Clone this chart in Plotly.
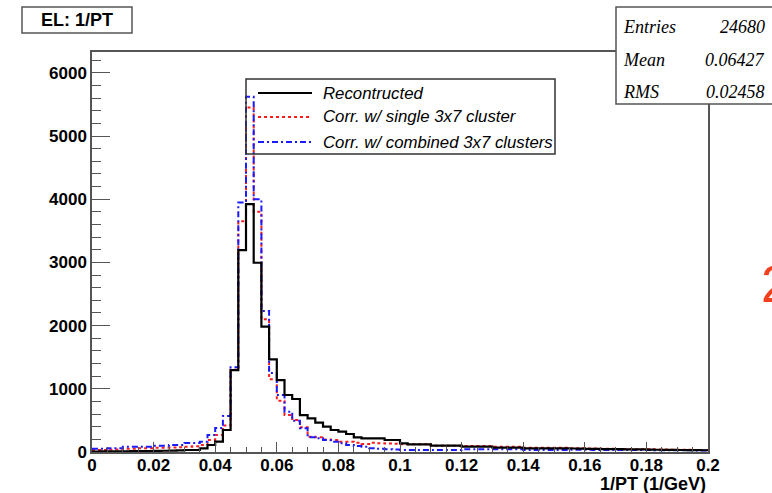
import numpy as np
import plotly.graph_objects as go

# 1/PT histogram, 80 bins from 0 to 0.2 (1/GeV)
bin_lo, bin_hi, n_bins = 0.0, 0.2, 80

reco = [8, 10, 10, 12, 12, 14, 14, 16, 18, 20, 22, 25,
        32, 32, 58, 111, 163, 348, 1297, 3196, 3924, 2995, 1983, 1466,
        1139, 902, 839, 585, 533, 464, 401, 348, 322, 285, 232, 216,
        216, 216, 190, 190, 137, 121, 121, 121, 100, 100, 100, 100,
        84, 84, 84, 84, 68, 68, 68, 68, 58, 58, 58, 58, 58, 58,
        55, 52, 50, 48, 46, 45, 44, 42, 40, 40, 38, 36, 35, 34, 32, 30, 30, 28]

corr_single = [30, 30, 40, 40, 50, 50, 60, 60, 68, 68, 70, 75,
               84, 90, 111, 190, 269, 420, 1300, 3650, 5450, 3800, 2100, 1150,
               812, 585, 506, 390, 243, 232, 199, 190, 163, 163, 148, 127,
               148, 140, 135, 130, 121, 121, 121, 121, 100, 100, 100, 100,
               95, 95, 95, 95, 84, 84, 84, 84, 68, 68, 68, 68, 68, 68,
               60, 58, 56, 54, 52, 50, 48, 46, 45, 44, 42, 40, 38, 36, 35, 34, 32, 30]

corr_combined = [50, 50, 60, 60, 84, 84, 84, 84, 100, 100, 111, 111,
                 142, 142, 163, 269, 380, 570, 1340, 3950, 5620, 4000, 2230, 1250,
                 902, 638, 495, 375, 232, 216, 190, 163, 137, 111, 95, 84,
                 60, 50, 42, 40, 32, 32, 32, 32, 32, 32, 32, 32,
                 42, 42, 42, 42, 42, 42, 42, 42, 32, 32, 32, 32, 32, 32,
                 35, 34, 34, 33, 33, 32, 32, 31, 30, 30, 30, 29, 28, 28, 27, 26, 25, 25]

series = [
    ("Recontructed", reco, "#000000", "solid", 2.2),
    ("Corr. w/ single 3x7 cluster", corr_single, "#ff1a1a", "3px,3px", 2.0),
    ("Corr. w/ combined 3x7 clusters", corr_combined, "#1a1aff", "6px,3px,2px,3px", 2.0),
]

stats = [("Entries", "24680"), ("Mean", "0.06427"), ("RMS", "0.02458")]

edges = np.linspace(bin_lo, bin_hi, n_bins + 1)

W, H = 772, 493
L, R, T, B = 92, 708, 52, 452   # plot frame in pixels


def px(x):
    return (x - L) / (R - L)


def py(y):
    return (B - y) / (B - T)


fig = go.Figure()
# draw the black histogram last so it sits on top
for name, vals, col, dash, w in [series[1], series[2], series[0]]:
    v = list(vals)
    fig.add_trace(go.Scatter(
        x=edges, y=v + [v[-1]], mode="lines", line_shape="hv",
        line=dict(color=col, dash=dash, width=w), name=name, showlegend=False,
        hoverinfo="skip"))

SANS = "Liberation Sans, Arial, sans-serif"
axis_font = dict(family=SANS, size=17, color="#000", weight="bold")

fig.update_xaxes(
    range=[bin_lo, bin_hi], dtick=0.02, tick0=0, ticks="inside", ticklen=10,
    tickwidth=1, tickcolor="#555", tickfont=axis_font, showgrid=False, zeroline=False,
    showline=True, linecolor="#555", linewidth=1.5, mirror=True, ticklabelstandoff=-3,
    minor=dict(dtick=0.005, tick0=0, ticks="inside", ticklen=5, tickcolor="#555", showgrid=False))
fig.update_yaxes(
    range=[0, 6330], dtick=1000, tick0=0, ticks="inside", ticklen=18,
    tickwidth=1, tickcolor="#555", tickfont=axis_font, showgrid=False, zeroline=False,
    showline=True, linecolor="#555", linewidth=1.5, mirror=True,
    minor=dict(dtick=200, tick0=0, ticks="inside", ticklen=9, tickcolor="#555", showgrid=False))

shapes = []
annotations = []

# title box
shapes.append(dict(type="rect", xref="paper", yref="paper",
                   x0=px(22), x1=px(132), y0=py(33), y1=py(7),
                   line=dict(color="#555", width=1.5), fillcolor="white"))
annotations.append(dict(xref="paper", yref="paper", x=px(77), y=py(20.5),
                        text="EL: 1/PT", showarrow=False, xanchor="center", yanchor="middle",
                        font=dict(family=SANS, size=18, color="#000", weight="bold")))

# statistics box
shapes.append(dict(type="rect", xref="paper", yref="paper",
                   x0=px(616), x1=px(790), y0=py(104), y1=py(7),
                   line=dict(color="#555", width=1.5), fillcolor="white", layer="above"))
stat_font = dict(family="Liberation Serif, Times New Roman, serif", size=18, color="#000",
                 style="italic")
for k, (lab, val) in enumerate(stats):
    yc = 27 + k * 32.5
    annotations.append(dict(xref="paper", yref="paper", x=px(621), y=py(yc), text=lab,
                            showarrow=False, xanchor="left", yanchor="middle", font=stat_font))
    annotations.append(dict(xref="paper", yref="paper", x=px(767), y=py(yc), text=val,
                            showarrow=False, xanchor="right", yanchor="middle", font=stat_font))

# legend box (transparent, lines show through)
shapes.append(dict(type="rect", xref="paper", yref="paper",
                   x0=px(246), x1=px(555), y0=py(154), y1=py(79),
                   line=dict(color="#333", width=1.5), fillcolor="rgba(0,0,0,0)", layer="above"))
leg_font = dict(family=SANS, size=16.8, color="#000", style="italic")
for k, (name, vals, col, dash, w) in enumerate(series):
    yc = [93, 117, 142][k]
    shapes.append(dict(type="line", xref="paper", yref="paper",
                       x0=px(258), x1=px(312), y0=py(yc), y1=py(yc),
                       line=dict(color=col, dash=dash, width=w), layer="above"))
    annotations.append(dict(xref="paper", yref="paper", x=px(321), y=py(yc), text=name,
                            showarrow=False, xanchor="left", yanchor="middle", font=leg_font))

# x-axis title
annotations.append(dict(xref="paper", yref="paper", x=1.0, y=py(484), text="1/PT (1/GeV)",
                        showarrow=False, xanchor="right", yanchor="middle",
                        font=dict(family=SANS, size=18, color="#000", weight="bold")))

# slide number at the right edge
annotations.append(dict(xref="paper", yref="paper", x=px(759), y=py(284), text="2",
                        showarrow=False, xanchor="left", yanchor="middle",
                        font=dict(family=SANS, size=52, color="#f0401e")))

fig.update_layout(
    width=W, height=H, margin=dict(l=L, r=W - R, t=T, b=H - B, pad=0),
    paper_bgcolor="white", plot_bgcolor="white",
    shapes=shapes, annotations=annotations, showlegend=False)

fig.write_html("out.html")
